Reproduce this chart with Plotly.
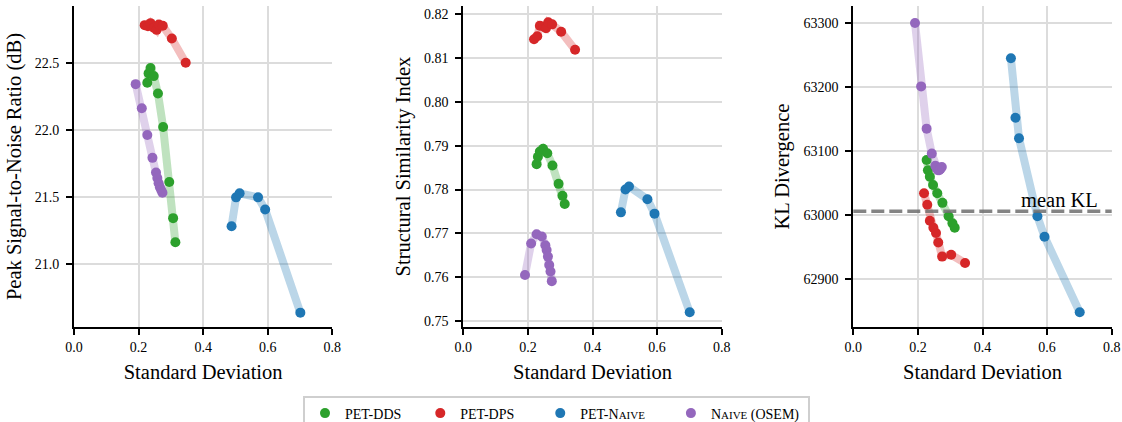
import plotly.graph_objects as go

# ---------------- data ----------------
methods = ["PET-DDS", "PET-DPS", "PET-Naive", "Naive (OSEM)"]
legend_labels = [
    "PET-DDS",
    "PET-DPS",
    "PET-N<span style='font-size:11px'>AIVE</span>",
    "N<span style='font-size:11px'>AIVE</span> (OSEM)",
]
legend_pad = [4, 6, 6, 1]
colors = ["#2ca02c", "#d62728", "#1f77b4", "#9467bd"]
line_colors = ["rgba(44,160,44,0.3)", "rgba(214,39,40,0.3)",
               "rgba(31,119,180,0.3)", "rgba(148,103,189,0.3)"]

dds_std = [0.227, 0.231, 0.237, 0.247, 0.260, 0.276, 0.295, 0.307, 0.314]
dds_psnr = [22.35, 22.42, 22.46, 22.40, 22.27, 22.02, 21.61, 21.34, 21.16]
dds_ssim = [0.7858, 0.7875, 0.7887, 0.7893, 0.7883, 0.7855, 0.7813, 0.7786, 0.7767]
dds_kl = [63086, 63070, 63060, 63047, 63034, 63019, 62998, 62987, 62980]

dps_std = [0.219, 0.229, 0.237, 0.248, 0.256, 0.263, 0.275, 0.303, 0.346]
dps_psnr = [22.78, 22.772, 22.795, 22.76, 22.745, 22.785, 22.775, 22.68, 22.50]
dps_ssim = [0.8143, 0.8150, 0.8174, 0.8172, 0.8168, 0.8182, 0.8177, 0.8160, 0.8119]
dps_kl = [63034, 63016, 62991, 62980, 62972, 62957, 62935, 62938, 62925]

naive_std = [0.488, 0.502, 0.513, 0.570, 0.592, 0.701]
naive_psnr = [21.28, 21.495, 21.525, 21.495, 21.405, 20.635]
naive_ssim = [0.7748, 0.7800, 0.7807, 0.7778, 0.7745, 0.7520]
naive_kl = [63245, 63152, 63120, 62998, 62966, 62848]

osem_std = [0.191, 0.210, 0.227, 0.243, 0.254, 0.258, 0.262, 0.266, 0.270, 0.274]
osem_psnr = [22.34, 22.16, 21.96, 21.79, 21.68, 21.64, 21.60, 21.57, 21.55, 21.53]
osem_ssim = [0.7605, 0.7677, 0.7698, 0.7693, 0.7673, 0.7662, 0.7647, 0.7628, 0.7613, 0.7591]
osem_kl = [63300, 63201, 63135, 63096, 63077, 63073, 63070, 63070, 63072, 63075]

mean_kl = 63006

stds = [dds_std, dps_std, naive_std, osem_std]
metrics = [
    [dds_psnr, dps_psnr, naive_psnr, osem_psnr],
    [dds_ssim, dps_ssim, naive_ssim, osem_ssim],
    [dds_kl, dps_kl, naive_kl, osem_kl],
]
y_titles = ["Peak Signal-to-Noise Ratio (dB)", "Structural Similarity Index", "KL Divergence"]
x_title = "Standard Deviation"

# ---------------- figure ----------------
FONT = "Liberation Serif"
fig = go.Figure()

xdomains = [[74/1122, 332.3/1122], [463.3/1122, 721.7/1122], [853.3/1122, 1111.7/1122]]
ydomain = [1 - 326.7/422, 1 - 6.4/422]
yranges = [[20.530, 22.92], [0.7487, 0.8218], [62825.5, 63326]]
yticks = [[21.0, 21.5, 22.0, 22.5],
          [0.75, 0.76, 0.77, 0.78, 0.79, 0.80, 0.81, 0.82],
          [62900, 63000, 63100, 63200, 63300]]
yformats = [".1f", ".2f", "d"]

for p in range(3):
    xa = "x" if p == 0 else f"x{p+1}"
    ya = "y" if p == 0 else f"y{p+1}"
    for i in range(4):
        fig.add_trace(go.Scatter(
            x=stds[i], y=metrics[p][i], mode="lines",
            line=dict(color=line_colors[i], width=8),
            showlegend=False, hoverinfo="skip", xaxis=xa, yaxis=ya))
        fig.add_trace(go.Scatter(
            x=stds[i], y=metrics[p][i], mode="markers",
            marker=dict(color=colors[i], size=10, line=dict(width=0)),
            name=legend_labels[i] + "&nbsp;" * legend_pad[i],
            showlegend=(p == 0), xaxis=xa, yaxis=ya))

axis_common = dict(
    showline=True, linecolor="black", linewidth=2, mirror=False,
    ticks="outside", ticklen=6, tickwidth=1.5, tickcolor="black",
    showgrid=True, gridcolor="#dcdcdc", gridwidth=1.5, zeroline=False,
    tickfont=dict(family=FONT, size=14, color="black"),
)

layout = dict(
    width=1122, height=422,
    margin=dict(l=0, r=0, t=0, b=0, autoexpand=False),
    paper_bgcolor="white", plot_bgcolor="white",
    font=dict(family=FONT, color="black"),
    legend=dict(
        orientation="h", x=303/1122, xanchor="left", y=1 - 395.5/422, yanchor="top",
        bordercolor="#cfcfcf", borderwidth=2, bgcolor="white",
        font=dict(family=FONT, size=14, color="black"),
        itemclick=False,
    ),
)
for p in range(3):
    xk = "xaxis" if p == 0 else f"xaxis{p+1}"
    yk = "yaxis" if p == 0 else f"yaxis{p+1}"
    ya = "y" if p == 0 else f"y{p+1}"
    xa = "x" if p == 0 else f"x{p+1}"
    layout[xk] = dict(axis_common, domain=xdomains[p], range=[0, 0.8], anchor=ya,
                      tickvals=[0.0, 0.2, 0.4, 0.6, 0.8], tickformat=".1f",
                      title=dict(text=x_title, font=dict(family=FONT, size=20.5), standoff=11))
    layout[yk] = dict(axis_common, domain=ydomain, range=yranges[p], anchor=xa,
                      tickvals=yticks[p], tickformat=yformats[p], ticklabelstandoff=4,
                      title=dict(text=y_titles[p], font=dict(family=FONT, size=20.5), standoff=8))
fig.update_layout(**layout)

fig.add_shape(type="line", xref="x3 domain", yref="y3", x0=0, x1=1, y0=mean_kl, y1=mean_kl,
              line=dict(color="rgba(110,110,110,0.85)", width=3.5, dash="13px,5px"))
fig.add_annotation(xref="x3", yref="y3", x=0.638, y=mean_kl, text="mean KL", showarrow=False,
                   yanchor="bottom", yshift=-2, font=dict(family=FONT, size=20.5, color="black"))

fig.write_html("out.html", config={"displayModeBar": False},
               post_script="document.body.style.margin='0';document.body.style.overflow='hidden';")
